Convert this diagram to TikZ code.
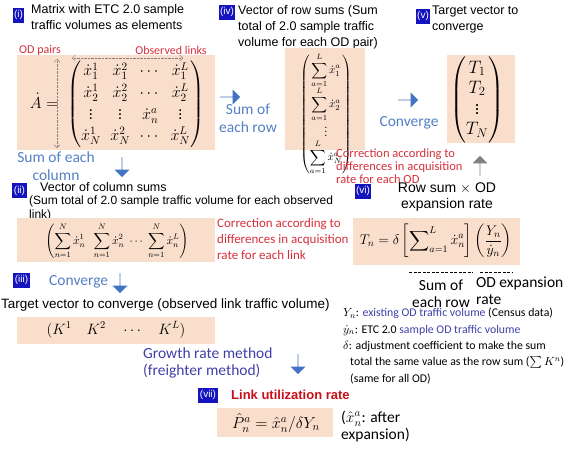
\documentclass[tikz,border=0pt]{standalone}
\usepackage{fix-cm}
\usepackage{amsmath,amssymb}
\usepackage[no-math]{fontspec}
\setmainfont{Liberation Sans}
\newfontfamily\calib{Carlito}
\usetikzlibrary{arrows.meta,shapes.arrows}
\definecolor{peach}{RGB}{250,222,204}
\definecolor{tagblue}{RGB}{20,20,190}
\definecolor{txtblue}{RGB}{84,128,196}
\definecolor{arrblue}{RGB}{68,114,196}
\definecolor{mthd}{RGB}{64,64,168}
\definecolor{corr}{RGB}{214,48,60}
\definecolor{lnkred}{RGB}{200,16,24}
\begin{document}
\begin{tikzpicture}[x=1pt,y=-1pt,>=Stealth,
  tag/.style={fill=tagblue,text=white,inner sep=1.5pt,minimum height=15pt,font=\fontsize{10}{12}\selectfont},
  hd/.style={anchor=north west,align=left,inner sep=0pt,font=\fontsize{12.5}{16}\selectfont},
  pbox/.style={fill=peach,inner sep=0pt},
  bl/.style={text=txtblue,align=center,inner sep=0pt,font=\calib\fontsize{15.5}{18}\selectfont},
  rd/.style={text=corr,anchor=north west,align=left,inner sep=0pt},
  barr/.style={single arrow,fill=arrblue,inner sep=0pt,minimum width=15pt,minimum height=20pt,single arrow head extend=3pt},
  dim/.style={{Straight Barb[length=3pt]}-{Straight Barb[length=3pt]},densely dotted,gray},
  mth/.style={inner sep=0pt}]
\useasboundingbox (0,0) rectangle (571,455);

% (i) matrix
\node[tag] (tg1) at (18.5,15) {(i)};
\node[hd] (hd1) at (31,4) {Matrix with ETC 2.0 sample\\traffic volumes as elements};
\node[pbox,minimum width=198pt,minimum height=95pt] (matbg) at (116,102.5) {};
\node[text=corr,font=\calib\fontsize{12}{14}\selectfont,inner sep=0pt] (odp) at (40,50) {OD pairs};
\node[text=corr,font=\calib\fontsize{12}{14}\selectfont,inner sep=0pt] (obl) at (171,50) {Observed links};
\coordinate (v1) at (57,59);
\coordinate (v2) at (57,148);
\coordinate (h1) at (72,58);
\coordinate (h2) at (183,58);
\draw[dim] (v1) -- (v2);
\draw[dim] (h1) -- (h2);
\node[mth,font=\fontsize{16}{19}\selectfont] (mat) at (117,104)
  {\arraycolsep=4.8pt\def\arraystretch{1.12}$\dot{A}=\ \begin{pmatrix}
  \dot{x}_1^1 & \dot{x}_1^2 & \cdots & \dot{x}_1^L\\
  \dot{x}_2^1 & \dot{x}_2^2 & \cdots & \dot{x}_2^L\\
  \vdots & \vdots & \dot{x}_n^a & \vdots\\
  \dot{x}_N^1 & \dot{x}_N^2 & \cdots & \dot{x}_N^L
  \end{pmatrix}$};

% (iv) row sums
\node[barr] (ar1) at (230,97) {};
\node[bl] (sor) at (248,118) {Sum of\\each row};
\node[tag] (tg4) at (227,12) {(iv)};
\node[hd] (hd4) at (238,5) {Vector of row sums (Sum\\total of 2.0 sample traffic\\volume for each OD pair)};
\node[pbox,minimum width=80pt,minimum height=102pt] (rowbg) at (325,99) {};
\node[mth,font=\fontsize{11}{13}\selectfont] (rowv) at (326,114)
  {$\begin{pmatrix}\displaystyle\sum_{a=1}^{L}\dot{x}_1^a\\
  \displaystyle\sum_{a=1}^{L}\dot{x}_2^a\\ \vdots\\
  \displaystyle\sum_{a=1}^{L}\dot{x}_N^a\end{pmatrix}$};
\node[rd,font=\calib\fontsize{12.5}{13}\selectfont] (crod) at (336,149)
  {Correction according to\\differences in acquisition\\rate for each OD};

% (v) target
\node[barr] (ar2) at (408,100) {};
\node[bl] (cv1) at (409,123) {Converge};
\node[tag] (tg5) at (423,16) {(v)};
\node[hd] (hd5) at (432,6) {Target vector to\\converge};
\node[pbox,minimum width=68pt,minimum height=88pt] (tbg) at (481,99) {};
\node[mth,font=\fontsize{18}{20}\selectfont] (tvec) at (477,100)
  {$\begin{pmatrix}T_1\\T_2\\ \vdots\\T_N\end{pmatrix}$};

% (vi) expansion
\node[barr,fill=gray,rotate=90] (ar3) at (480,166) {};
\node[tag] (tg6) at (363,191) {(vi)};
\node[align=center,inner sep=0pt,font=\fontsize{14}{16}\selectfont] (rsx) at (447,197) {Row sum $\times$ OD\\expansion rate};
\node[pbox,minimum width=167pt,minimum height=47pt] (tnbg) at (436.5,241.5) {};
\node[mth,font=\fontsize{14}{16}\selectfont] (tn) at (436,241)
  {$T_n=\delta\left[\displaystyle\sum\nolimits_{a=1}^{L}\dot{x}_n^a\right]\left(\dfrac{Y_n}{\dot{y}_n}\right)$};
\coordinate (s1) at (409,272);
\coordinate (s2) at (473,272);
\coordinate (e1) at (480,272);
\coordinate (e2) at (512,272);
\draw[dash pattern=on 3pt off 1.5pt] (s1) -- (s2);
\draw[dash pattern=on 3pt off 1.5pt] (e1) -- (e2);
\node[align=center,inner sep=0pt,font=\calib\fontsize{15.5}{17}\selectfont] (sr) at (441,294) {Sum of\\each row};
\node[anchor=north west,align=left,inner sep=0pt,font=\calib\fontsize{15.5}{17}\selectfont] (oe) at (476,277) {OD expansion\\rate};

% (ii) column sums
\node[bl] (soc) at (56,166) {Sum of each\\column};
\node[barr,rotate=-90] (ar4) at (122,167) {};
\node[tag] (tg2) at (19.5,190.5) {(ii)};
\node[anchor=west,inner sep=0pt,font=\fontsize{12.5}{16}\selectfont] (hd2) at (40,187) {Vector of column sums};
\node[anchor=north west,align=left,inner sep=0pt,font=\fontsize{12}{14}\selectfont] (hd2b) at (29,196)
  {(Sum total of 2.0 sample traffic volume for each observed\\link)};
\node[pbox,minimum width=198pt,minimum height=44pt] (colbg) at (116,240) {};
\node[mth,font=\fontsize{11.5}{13}\selectfont] (colv) at (117,241)
  {$\left(\displaystyle\sum_{n=1}^{N}\dot{x}_n^1\ \ \sum_{n=1}^{N}\dot{x}_n^2\ \cdots\ \sum_{n=1}^{N}\dot{x}_n^L\right)$};
\node[rd,font=\calib\fontsize{13}{16}\selectfont] (crlk) at (217,218)
  {Correction according to\\differences in acquisition\\rate for each link};

% (iii) observed links
\node[tag] (tg3) at (21.5,280) {(iii)};
\node[bl,anchor=west] (cv2) at (49,282) {Converge};
\node[barr,rotate=-90] (ar5) at (120,283) {};
\node[anchor=west,inner sep=0pt,font=\fontsize{13.5}{16}\selectfont] (hd3) at (1,305)
  {Target vector to converge (observed link traffic volume)};
\node[pbox,minimum width=198pt,minimum height=27pt] (kbg) at (116,330.5) {};
\node[mth,font=\fontsize{15}{17}\selectfont] (kvec) at (116,330) {$(K^1\quad K^2\quad\cdots\quad K^L)$};

% (vii) link utilization
\node[bl,text=mthd,anchor=north west,align=left,font=\calib\fontsize{15.5}{16.5}\selectfont] (grm) at (143,348) {Growth rate method\\(freighter method)};
\node[barr,rotate=-90] (ar6) at (298,364) {};
\node[tag] (tg7) at (208,395) {(vii)};
\node[anchor=west,inner sep=0pt,text=lnkred,font=\bfseries\fontsize{13}{16}\selectfont] (lur) at (231,395) {Link utilization rate};
\node[pbox,minimum width=116pt,minimum height=29pt] (pbg) at (275,422.5) {};
\node[mth,font=\fontsize{16}{18}\selectfont] (pform) at (276,423) {$\hat{P}_n^a=\hat{x}_n^a/\delta Y_n$};
\node[anchor=north west,align=left,inner sep=0pt,font=\calib\fontsize{15.5}{17}\selectfont] (aft) at (341,411)
  {($\hat{x}_n^a$: after\\expansion)};

% legend
\node[anchor=north west,align=left,inner sep=0pt,font=\calib\fontsize{11.8}{16.3}\selectfont] (lgd) at (343,308)
  {$Y_n$: \textcolor{mthd}{existing OD traffic volume} (Census data)\\
  $\dot{y}_n$: ETC 2.0 \textcolor{mthd}{sample OD traffic volume}\\
  $\delta$: adjustment coefficient to make the sum\\
  \hspace*{7pt}total the same value as the row sum ($\sum K^n$)\\
  \hspace*{7pt}(same for all OD)};
\end{tikzpicture}
\end{document}
